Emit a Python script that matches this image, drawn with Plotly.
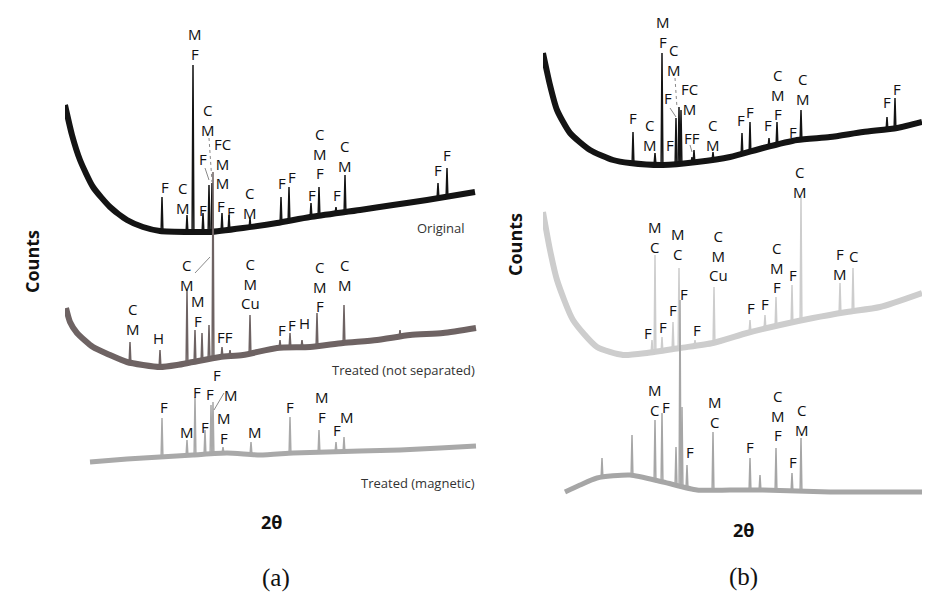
import plotly.graph_objects as go

# ---------------- Panel (a) ----------------
# Original (black)
a_orig_bx = [5.0, 6.4, 8.0, 10.6, 14.0, 17.4, 20.6, 24.0, 30.6, 34.0, 40.6, 47.4, 54.0, 64.0, 70.6, 77.4, 87.0]
a_orig_by = [495, 465, 440, 413, 393, 380, 373, 369, 368, 368, 372, 377, 383, 390, 395, 400, 408]
a_orig_px = [24.4, 29.4, 30.6, 32.6, 33.8, 34.4, 36.4, 37.8, 42.0, 48.2, 49.8, 54.2, 55.8, 59.2, 61.0, 79.6, 81.4]
a_orig_top = [403, 385, 535, 387, 415, 417, 387, 385, 382, 403, 413, 397, 413, 393, 425, 417, 432]
a_orig_base = [369, 368, 368, 368, 368, 368, 369, 370, 372, 377, 378, 383, 384, 387, 388, 402, 403]

# Treated (not separated)
a_mid_bx = [5.2, 6.0, 7.4, 10.6, 14.0, 17.4, 20.6, 24.0, 27.4, 30.6, 36.0, 40.6, 47.4, 54.0, 60.6, 67.4, 74.0, 80.6, 87.2]
a_mid_by = [292, 278, 267, 253, 245, 238, 235, 233, 235, 238, 243, 245, 252, 253, 257, 260, 265, 267, 272]
a_mid_px = [18.0, 24.0, 29.4, 31.0, 32.4, 33.8, 34.6, 36.4, 38.0, 42.0, 48.0, 50.0, 52.4, 55.4, 60.8, 72.0]
a_mid_top = [258, 250, 310, 270, 267, 275, 428, 253, 250, 285, 260, 267, 260, 287, 295, 270]
a_mid_base = [237, 233, 237, 238, 239, 241, 242, 243, 244, 246, 252, 252, 253, 254, 257, 263]

# Treated (magnetic)
a_mag_bx = [10.0, 17.4, 24.0, 30.6, 37.4, 44.0, 50.6, 57.4, 64.0, 72.0, 80.0, 87.2]
a_mag_by = [138, 141, 143, 145, 147, 145, 147, 148, 149, 150, 152, 154]
a_mag_px = [24.4, 29.4, 31.0, 33.0, 34.2, 34.6, 36.6, 42.2, 50.0, 55.8, 59.2, 60.8]
a_mag_top = [182, 160, 203, 170, 195, 198, 153, 158, 183, 170, 158, 163]
a_mag_base = [143, 145, 145, 146, 146, 146, 147, 146, 147, 147, 148, 148]

# ---------------- Panel (b) ----------------
b_orig_bx = [5.0, 6.4, 7.8, 10.4, 14.4, 19.0, 22.4, 29.0, 35.8, 42.4, 49.0, 55.8, 62.4, 69.0, 75.8, 80.8]
b_orig_by = [547, 515, 490, 467, 450, 440, 437, 435, 438, 443, 452, 460, 463, 468, 472, 478]
b_orig_px = [23.0, 27.4, 28.8, 31.6, 32.2, 32.6, 34.8, 35.2, 39.0, 44.8, 46.4, 50.2, 51.8, 55.0, 56.6, 73.8, 75.4]
b_orig_top = [468, 447, 547, 482, 493, 490, 443, 450, 448, 467, 478, 462, 478, 458, 490, 483, 502]
b_orig_base = [437, 436, 435, 435, 436, 436, 437, 437, 440, 444, 446, 453, 455, 459, 460, 470, 471]

b_mid_bx = [5.0, 6.4, 7.8, 11.0, 15.8, 21.0, 25.8, 32.4, 39.0, 45.8, 52.4, 59.0, 65.8, 72.4, 80.8]
b_mid_by = [388, 350, 320, 280, 253, 245, 247, 252, 257, 267, 275, 282, 288, 293, 307]
b_mid_px = [26.8, 27.4, 28.8, 31.0, 32.2, 35.4, 39.2, 46.4, 49.4, 51.6, 54.8, 56.6, 64.4, 67.0]
b_mid_top = [260, 345, 263, 278, 332, 260, 313, 280, 285, 303, 315, 403, 317, 332]
b_mid_base = [247, 247, 248, 250, 251, 254, 257, 268, 271, 273, 276, 278, 287, 289]

b_mag_bx = [9.4, 12.4, 15.8, 22.4, 29.0, 35.8, 42.4, 49.0, 55.8, 62.4, 69.0, 80.8]
b_mag_by = [108, 115, 122, 125, 118, 110, 110, 110, 109, 108, 108, 108]
b_mag_px = [16.8, 22.8, 27.4, 28.8, 31.6, 32.4, 32.8, 33.8, 39.0, 46.4, 48.4, 51.6, 54.8, 56.6]
b_mag_top = [142, 165, 180, 187, 153, 300, 193, 135, 168, 142, 125, 152, 127, 162]
b_mag_base = [122, 125, 120, 119, 116, 115, 115, 113, 110, 110, 110, 110, 109, 109]

# Phase labels (2theta, counts, text); stacked letters are one label
a_labels = [
    # original
    (31.0, 556, "M<br>F"), (25.0, 413, "F"), (28.6, 402, "C<br>M"), (32.6, 390, "F"),
    (33.6, 480, "C<br>M"), (32.6, 441, "F"), (36.5, 437, "FC<br>M<br>M"),
    (36.2, 394, "F"), (38.2, 388, "F"), (42.0, 397, "C<br>M"),
    (48.4, 417, "F"), (50.4, 423, "F"), (54.4, 405, "F"),
    (56.0, 447, "C<br>M<br>F"), (59.4, 405, "F"), (61.0, 444, "C<br>M"),
    (79.6, 430, "F"), (81.4, 445, "F"),
    # treated (not separated)
    (18.6, 281, "C<br>M"), (23.6, 262, "H"), (29.4, 325, "C<br>M"),
    (31.6, 289, "M<br>F"), (37.0, 263, "FF"), (42.0, 317, "C<br>M<br>Cu"),
    (48.4, 270, "F"), (50.4, 275, "F"), (52.8, 277, "H"),
    (56.0, 314, "C<br>M<br>F"), (61.0, 325, "C<br>M"),
    # treated (magnetic)
    (24.8, 193, "F"), (29.4, 168, "M"), (31.4, 208, "F"), (33.0, 173, "F"),
    (34.0, 206, "F"), (35.4, 225, "F"), (38.2, 205, "M"), (36.8, 172, "M<br>F"),
    (43.0, 168, "M"), (50.0, 193, "F"), (56.4, 193, "M<br>F"),
    (59.4, 170, "F"), (61.4, 183, "M"),
]
b_labels = [
    # original
    (29.0, 568, "M<br>F"), (31.2, 540, "C<br>M"), (23.0, 482, "F"), (26.4, 465, "C<br>M"),
    (30.0, 502, "F"), (30.4, 455, "F"), (34.3, 501, "FC<br>M"), (34.8, 462, "FF"),
    (39.0, 465, "C<br>M"), (44.6, 480, "F"), (46.4, 488, "F"), (50.0, 475, "F"),
    (52.0, 506, "C<br>M<br>F"), (55.0, 468, "F"), (57.0, 511, "C<br>M"),
    (73.8, 498, "F"), (75.8, 511, "F"),
    # treated (not separated)
    (56.4, 418, "C<br>M"), (27.4, 363, "M<br>C"), (32.0, 356, "M<br>C"),
    (40.0, 345, "C<br>M<br>Cu"),
    (26.0, 267, "F"), (29.0, 273, "F"), (31.0, 290, "F"), (33.2, 306, "F"), (35.8, 270, "F"),
    (46.6, 292, "F"), (49.4, 296, "F"), (51.8, 333, "C<br>M<br>F"), (55.0, 325, "F"),
    (64.4, 336, "F<br>M"), (67.0, 344, "C"),
    # treated (magnetic)
    (27.4, 200, "M<br>C"), (29.6, 193, "F"), (34.4, 148, "F"), (39.4, 188, "M<br>C"),
    (46.4, 153, "F"), (52.0, 185, "C<br>M<br>F"), (55.0, 138, "F"), (56.8, 180, "C<br>M"),
]
# Leader lines from labels to peaks: (x0, y0, x1, y1, dash)
a_leaders = [(33.8, 462, 34.4, 418, "dot"), (33.0, 432, 33.8, 420, "solid"),
             (31.0, 327, 34.0, 343, "solid"), (36.8, 207, 34.8, 190, "solid")]
b_leaders = [(31.4, 522, 31.8, 492, "dot"), (30.4, 492, 31.6, 483, "solid"),
             (34.4, 455, 34.8, 448, "solid")]

a_trace_labels = [(85.4, 372, "Original"), (87.4, 230, "Treated (not separated)"), (87.4, 117, "Treated (magnetic)")]
b_trace_labels = [(81.0, 437, "Original"), (81.8, 247, "Treated (not separated)"), (81.0, 75, "Treated (magnetic)")]


def spikes(px, top, base, hw=0.18):
    xs, ys = [], []
    for x, t, b in zip(px, top, base):
        xs += [x - hw, x, x + hw, None]
        ys += [b, t, b, None]
    return xs, ys


series = [
    ("x", a_orig_bx, a_orig_by, a_orig_px, a_orig_top, a_orig_base, "#141414", 6),
    ("x", a_mid_bx, a_mid_by, a_mid_px, a_mid_top, a_mid_base, "#6e6363", 6),
    ("x", a_mag_bx, a_mag_by, a_mag_px, a_mag_top, a_mag_base, "#a9a9a9", 5),
    ("x2", b_orig_bx, b_orig_by, b_orig_px, b_orig_top, b_orig_base, "#141414", 6),
    ("x2", b_mid_bx, b_mid_by, b_mid_px, b_mid_top, b_mid_base, "#cdcdcd", 6),
    ("x2", b_mag_bx, b_mag_by, b_mag_px, b_mag_top, b_mag_base, "#a6a6a6", 5),
]

fig = go.Figure()
for xa, bx, by, px, pt, pb, col, w in series:
    fig.add_trace(go.Scatter(x=bx, y=by, mode="lines", xaxis=xa, yaxis="y",
                             line=dict(color=col, width=w, shape="spline", smoothing=0.6),
                             hoverinfo="skip"))
    sx, sy = spikes(px, pt, pb)
    fig.add_trace(go.Scatter(x=sx, y=sy, mode="lines", xaxis=xa, yaxis="y",
                             line=dict(color=col, width=1.5), hoverinfo="skip"))

ann = []
lab_font = dict(family="Open Sans", size=15, color="#111111")
for xa, labels in (("x", a_labels), ("x2", b_labels)):
    for x, y, t in labels:
        ann.append(dict(x=x, y=y, xref=xa, yref="y", text=t, showarrow=False,
                        xanchor="center", yanchor="middle", font=lab_font, borderpad=0))
for xa, labels in (("x", a_trace_labels), ("x2", b_trace_labels)):
    for x, y, t in labels:
        ann.append(dict(x=x, y=y, xref=xa, yref="y", text=t, showarrow=False,
                        xanchor="right", yanchor="middle",
                        font=dict(family="Open Sans", size=13, color="#333333")))

W, H = 934, 599


def paper(px, py):
    return px / W, 1 - py / H


for (px, py) in [(32, 262), (515, 245)]:
    x, y = paper(px, py)
    ann.append(dict(x=x, y=y, xref="paper", yref="paper", text="<b>Counts</b>", textangle=-90,
                    showarrow=False, xanchor="center", yanchor="middle",
                    font=dict(family="Open Sans", size=18, color="#111111")))
for (px, py) in [(271, 522), (743, 530)]:
    x, y = paper(px, py)
    ann.append(dict(x=x, y=y, xref="paper", yref="paper", text="<b>2θ</b>",
                    showarrow=False, xanchor="center", yanchor="middle",
                    font=dict(family="Open Sans", size=18, color="#111111")))
for (px, py, t) in [(276, 578, "(a)"), (743, 577, "(b)")]:
    x, y = paper(px, py)
    ann.append(dict(x=x, y=y, xref="paper", yref="paper", text=t,
                    showarrow=False, xanchor="center", yanchor="middle",
                    font=dict(family="Liberation Serif", size=25, color="#111111")))

shapes = []
for xa, leaders in (("x", a_leaders), ("x2", b_leaders)):
    for x0, y0, x1, y1, d in leaders:
        shapes.append(dict(type="line", xref=xa, yref="y", x0=x0, y0=y0, x1=x1, y1=y1,
                           line=dict(color="#8a8a8a", width=1, dash=d)))

fig.update_layout(
    width=W, height=H, margin=dict(l=0, r=0, t=0, b=0),
    paper_bgcolor="white", plot_bgcolor="white", showlegend=False,
    xaxis=dict(domain=[65 / W, 478 / W], range=[5, 87.6], visible=False),
    xaxis2=dict(domain=[543 / W, 922 / W], range=[5, 80.8], visible=False, anchor="y"),
    yaxis=dict(domain=[0, 1], range=[1, 600], visible=False),
    annotations=ann, shapes=shapes,
)

fig.write_html("out.html", config={"displayModeBar": False},
               post_script="document.body.style.margin='0';document.body.style.overflow='hidden';")
